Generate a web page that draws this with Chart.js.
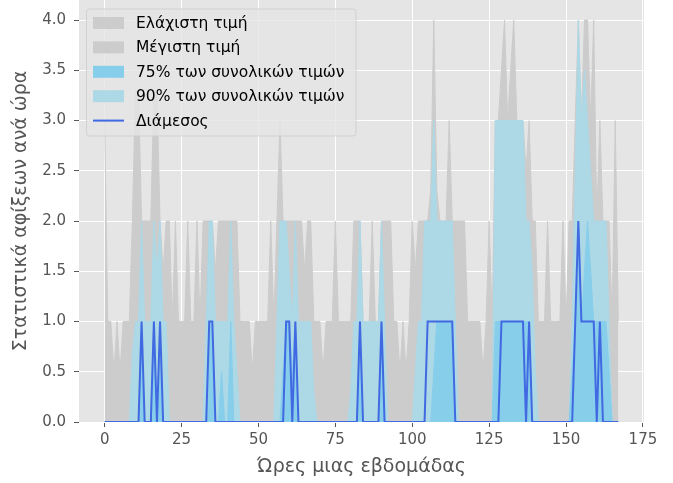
<!DOCTYPE html>
<html>
<head>
<meta charset="utf-8">
<script src="https://cdn.jsdelivr.net/npm/chart.js@4.4.0/dist/chart.umd.min.js"></script>
<style>
  html, body { margin: 0; padding: 0; background: #ffffff; }
  #wrap { width: 673px; height: 483px; }
</style>
</head>
<body>
<div id="wrap"><canvas id="myChart" width="673" height="483"></canvas></div>
<script>
// Ώρες της εβδομάδας (0..167)
const hours = Array.from({ length: 168 }, (_, i) => i);

const xTicks = [0, 25, 50, 75, 100, 125, 150, 175];
const yTicks = [0, 0.5, 1, 1.5, 2, 2.5, 3, 3.5, 4];

// ελάχιστη τιμή ανά ώρα
const minVals = [
  0,0,0,0,0,0,0,0,0,0, 0,0,0,0,0,0,0,0,0,0, 0,0,0,0,0,0,0,0,0,0,
  0,0,0,0,0,0,0,0,0,0, 0,0,0,0,0,0,0,0,0,0, 0,0,0,0,0,0,0,0,0,0,
  0,0,0,0,0,0,0,0,0,0, 0,0,0,0,0,0,0,0,0,0, 0,0,0,0,0,0,0,0,0,0,
  0,0,0,0,0,0,0,0,0,0, 0,0,0,0,0,0,0,0,0,0, 0,0,0,0,0,0,0,0,0,0,
  0,0,0,0,0,0,0,0,0,0, 0,0,0,0,0,0,0,0,0,0, 0,0,0,0,0,0,0,0,0,0,
  0,0,0,0,0,0,0,0,0,0, 0,0,0,0,0,0,0,0
];

// μέγιστη τιμή ανά ώρα
const maxVals = [
  3,1,1,0.5,1,0.5,1,1,1,2,          // 0-9
  3.3,3.3,2,2,2,2,3.3,3.3,2,1.5,    // 10-19
  2,2,1,2,1,1,1,2,1,1,              // 20-29
  2,1,2,2,2,2,1.5,2,2,2,            // 30-39
  2,2,2,2,1,1,1,1,0.5,1,            // 40-49
  1,1,1,1,2,1,2,3,2,2,              // 50-59
  2,2,2,2,2,1.5,2,2,1,1,            // 60-69
  1,0.5,1,1,1,2,1,1,1,1,            // 70-79
  1,2,2,2,1,1,1,2,1,1,              // 80-89
  2,2,2,2,1,1,0.5,1,0.5,1,          // 90-99
  2,1.5,2,2,2,2,2.3,4,2.3,2,        // 100-109
  2,2,3,2,2,2,2,2,1,1,              // 110-119
  1,1,1,0.5,1,2,1,3,3,3.5,          // 120-129
  4,3,3.5,4,3,3,3,2.5,3,2,          // 130-139
  2,1,1,1,2,1,1,1,1,2,              // 140-149
  1,2,2,3,4,3,4,4,3,4,              // 150-159
  2,3,2,2,2,1,3,1                   // 160-167
];

// 75% των συνολικών τιμών
const q75Vals = [
  0,0,0,0,0,0,0,0,0,0,
  0,0,1,0,0,0,1,0,1,0,
  0,0,0,0,0,0,0,0,0,0,
  0,0,0,0,1,1,0,0,0.5,0,
  0,1,0,0,0,0,0,0,0,0,
  0,0,0,0,0,0,0,0,0.5,1,
  1,0.5,1,0,0,0,0,0,0,0,
  0,0,0,0,0,0,0,0,0,0,
  0,0,0,1,0,0,0,0,0,0,
  1,0,0,0,0,0,0,0,0,0,
  0,0,0,0,0,0,0,0.5,1,1,
  1,1,1,1,0,0,0,0,0,0,
  0,0,0,0,0,0,0,1,1,1,
  1,1,1,1,1,1,1,1,1,0,
  0,0,0,0,0,0,0,0,0,0,
  0,0,0.5,1,2,1,1.5,2,1.5,1,
  1,1,1,1,0.5,0,0,0
];

// 90% των συνολικών τιμών
const q90Vals = [
  0,0,0,0,0,0,0,0,0,0.7,
  1,1,2,1,1,1,2,1.5,2,1,
  1,0,0,0,0,0,0,0,0,0,
  0,0,0,1,2,2,1,1,1,1,
  1,2,1,0.5,0,0,0,0,0,0,
  0,0,0,0,0,0,1,2,2,2,
  1.5,1,2,1,1,1,1,1,0.3,0,
  0,0,0,0,0,0,0,0,0,0,
  0.3,1,1,2,1,1,1,1,1,1,
  2,1,0,0,0,0,0,0,0,0,
  0,0.5,1,1,2,2,2,3,2,2,
  2,2,2,2,1,0,0,0,0,0,
  0,0,0,0,0,0,0,3,3,3,
  3,3,3,3,3,3,3,2,2,1.5,
  0.5,0,0,0,0,0,0,0,0,0,
  0,0,1,2.5,4,3,3.5,3,2.5,2,
  2,2,2,2,1,0,0,0
];

// Διάμεσος
const medianVals = [
  0,0,0,0,0,0,0,0,0,0,
  0,0,1,0,0,0,1,0,1,0,
  0,0,0,0,0,0,0,0,0,0,
  0,0,0,0,1,1,0,0,0,0,
  0,0,0,0,0,0,0,0,0,0,
  0,0,0,0,0,0,0,0,0,1,
  1,0,1,0,0,0,0,0,0,0,
  0,0,0,0,0,0,0,0,0,0,
  0,0,0,1,0,0,0,0,0,0,
  1,0,0,0,0,0,0,0,0,0,
  0,0,0,0,0,1,1,1,1,1,
  1,1,1,1,0,0,0,0,0,0,
  0,0,0,0,0,0,0,0,0,1,
  1,1,1,1,1,1,1,0,1,0,
  0,0,0,0,0,0,0,0,0,0,
  0,0,0,1,2,1,1,1,1,1,
  0,1,0,0,0,0,0,0
];

const toPoints = vals => hours.map((h, i) => ({ x: h, y: vals[i] }));

Chart.defaults.font.family = 'DejaVu Sans';

function areaSet(label, vals, color, order) {
  return {
    label: label,
    data: toPoints(vals),
    backgroundColor: color,
    borderColor: color,
    borderWidth: 1,
    pointRadius: 0,
    fill: 'origin',
    tension: 0,
    clip: 0,
    order: order
  };
}

// φόντο περιοχής σχεδίασης
const plotBg = {
  id: 'plotBg',
  beforeDraw(chart) {
    const { ctx, chartArea: a } = chart;
    ctx.save();
    ctx.fillStyle = '#e5e5e5';
    ctx.fillRect(a.left, a.top, a.right - a.left, a.bottom - a.top);
    ctx.restore();
  }
};

// υπόμνημα μέσα στην περιοχή σχεδίασης
const legendBox = {
  id: 'legendBox',
  afterDraw(chart) {
    const ctx = chart.ctx;
    const x0 = 86.5, y0 = 9, w = 269.5, h = 127;
    ctx.save();
    ctx.beginPath();
    ctx.roundRect(x0, y0, w, h, 3);
    ctx.fillStyle = 'rgba(229,229,229,0.8)';
    ctx.fill();
    ctx.strokeStyle = 'rgba(204,204,204,0.8)';
    ctx.lineWidth = 1;
    ctx.stroke();

    ctx.font = '15.5px "DejaVu Sans"';
    ctx.textBaseline = 'middle';
    chart.data.datasets.forEach((ds, i) => {
      const cy = 23 + i * 24.4;
      if (ds.fill) {
        ctx.fillStyle = ds.backgroundColor;
        ctx.fillRect(93, cy - 6, 31, 12);
      } else {
        ctx.strokeStyle = ds.borderColor;
        ctx.lineWidth = 2;
        ctx.beginPath();
        ctx.moveTo(93, cy);
        ctx.lineTo(124, cy);
        ctx.stroke();
      }
      ctx.fillStyle = '#000000';
      ctx.fillText(ds.label, 136, cy + 1);
    });
    ctx.restore();
  }
};

const ctx = document.getElementById('myChart');

new Chart(ctx, {
  type: 'line',
  data: {
    datasets: [
      areaSet('Ελάχιστη τιμή', minVals, '#cccccc', 5),
      areaSet('Μέγιστη τιμή', maxVals, '#cccccc', 4),
      areaSet('75% των συνολικών τιμών', q75Vals, '#87ceeb', 2),
      areaSet('90% των συνολικών τιμών', q90Vals, '#add8e6', 3),
      {
        label: 'Διάμεσος',
        data: toPoints(medianVals),
        borderColor: '#4169e1',
        borderWidth: 2,
        pointRadius: 0,
        fill: false,
        tension: 0,
        clip: 0,
        order: 1
      }
    ]
  },
  options: {
    responsive: false,
    animation: false,
    devicePixelRatio: 1,
    layout: { padding: { left: 0, right: 29, top: 0, bottom: 0 } },
    plugins: {
      legend: { display: false },
      tooltip: { enabled: false }
    },
    scales: {
      x: {
        type: 'linear',
        min: -8.35,
        max: 175.35,
        afterBuildTicks: scale => { scale.ticks = xTicks.map(v => ({ value: v })); },
        afterFit: scale => {
          scale.height = 61;
          scale.paddingLeft = 0;
          scale.paddingRight = 0;
        },
        ticks: { color: '#555555', font: { size: 15 }, padding: 4, maxRotation: 0 },
        grid: { color: '#ffffff', lineWidth: 1, tickColor: '#555555', tickLength: 5 },
        border: { display: false },
        title: {
          display: true,
          text: 'Ώρες μιας εβδομάδας',
          color: '#555555',
          font: { size: 19 },
          padding: { top: 0, bottom: 5 }
        }
      },
      y: {
        min: 0,
        max: 4.2,
        afterBuildTicks: scale => { scale.ticks = yTicks.map(v => ({ value: v })); },
        afterFit: scale => {
          scale.width = 79;
          scale.paddingTop = 0;
          scale.paddingBottom = 0;
        },
        ticks: {
          color: '#555555',
          font: { size: 15 },
          padding: 8,
          callback: v => v.toFixed(1)
        },
        grid: { color: '#ffffff', lineWidth: 1, tickColor: '#555555', tickLength: 5 },
        border: { display: false },
        title: {
          display: true,
          text: 'Στατιστικά αφίξεων ανά ώρα',
          color: '#555555',
          font: { size: 19 },
          padding: { top: 10, bottom: 0 }
        }
      }
    }
  },
  plugins: [plotBg, legendBox]
});
</script>
</body>
</html>
